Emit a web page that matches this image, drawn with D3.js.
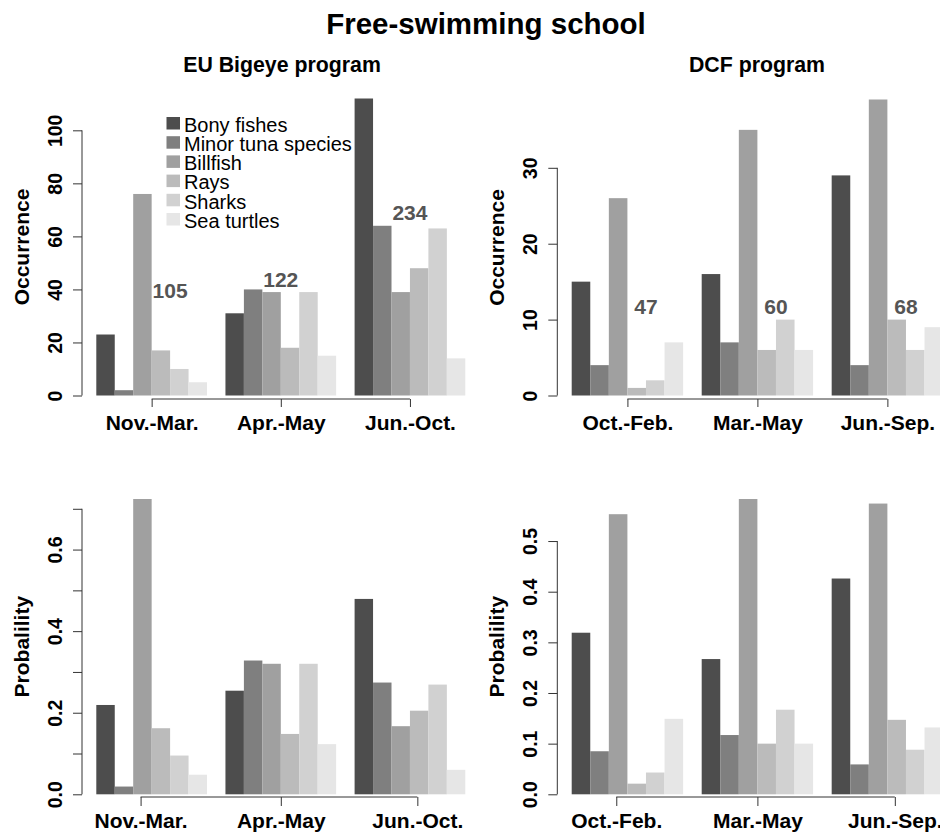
<!DOCTYPE html>
<html>
<head>
<meta charset="utf-8">
<script src="https://cdn.jsdelivr.net/npm/d3@7"></script>
<style>
  html, body { margin: 0; padding: 0; background: #fff; }
  svg { display: block; font-family: "Liberation Sans", Arial, Helvetica, sans-serif; }
</style>
</head>
<body>
<svg id="chart" width="940" height="834"></svg>
<script>
// Bycatch groups and their grey shades
const series = ["Bony fishes", "Minor tuna species", "Billfish", "Rays", "Sharks", "Sea turtles"];
const seriesColors = ["#4d4d4d", "#7f7f7f", "#a0a0a0", "#bbbbbb", "#d1d1d1", "#e6e6e6"];

// Seasons of each observer program
const euPeriods = ["Nov.-Mar.", "Apr.-May", "Jun.-Oct."];
const dcfPeriods = ["Oct.-Feb.", "Mar.-May", "Jun.-Sep."];

// Occurrence counts (rows = seasons, columns = bycatch groups)
const euCounts = [
  [23, 2, 76, 17, 10, 5],
  [31, 40, 39, 18, 39, 15],
  [112, 64, 39, 48, 63, 14]
];
const dcfCounts = [
  [15, 4, 26, 1, 2, 7],
  [16, 7, 35, 6, 10, 6],
  [29, 4, 39, 10, 6, 9]
];

// Number of observed sets per season
const euSets = [105, 122, 234];
const dcfSets = [47, 60, 68];
// Where the set counts are written (bar units, occurrence value)
const euSetsAt = [[4, 39.5], [10, 43.7], [17, 69.2]];
const dcfSetsAt = [[4, 11.7], [11, 11.7], [18, 11.7]];

// Probability of occurrence
const euProb = [
  [0.219, 0.019, 0.724, 0.162, 0.095, 0.048],
  [0.254, 0.328, 0.320, 0.148, 0.320, 0.123],
  [0.479, 0.274, 0.167, 0.205, 0.269, 0.060]
];
const dcfProb = [
  [0.319, 0.085, 0.553, 0.021, 0.043, 0.149],
  [0.267, 0.117, 0.583, 0.100, 0.167, 0.100],
  [0.426, 0.059, 0.574, 0.147, 0.088, 0.132]
];

// Axis ticks
const euCountTicks = [0, 20, 40, 60, 80, 100];
const dcfCountTicks = [0, 10, 20, 30];
const euProbTicks = [0, 0.1, 0.2, 0.3, 0.4, 0.5, 0.6, 0.7];
const dcfProbTicks = [0, 0.1, 0.2, 0.3, 0.4, 0.5];
const topTickAt = [3, 10, 17];
const bottomTickAt = [2.4, 10, 17.4];

const svg = d3.select("#chart");
const FONT_AXIS = 21;

svg.append("text")
  .attr("x", 486).attr("y", 34)
  .attr("text-anchor", "middle")
  .attr("font-weight", "bold").attr("font-size", 29.5)
  .text("Free-swimming school");

svg.append("text")
  .attr("x", 282).attr("y", 72)
  .attr("text-anchor", "middle")
  .attr("font-weight", "bold").attr("font-size", 21.3)
  .text("EU Bigeye program");

svg.append("text")
  .attr("x", 757).attr("y", 72)
  .attr("text-anchor", "middle")
  .attr("font-weight", "bold").attr("font-size", 21.3)
  .text("DCF program");

const panels = [
  { values: euCounts, periods: euPeriods, ticks: euCountTicks, fmt: d3.format("d"),
    x0: 96.3, unit: 18.45, axisX: 82, base: 395.5, top: 98.5, xAxisY: 399, tickLen: 8,
    xTicks: topTickAt, ylab: "Occurrence", sets: euSets, setsAt: euSetsAt, legend: true },
  { values: dcfCounts, periods: dcfPeriods, ticks: dcfCountTicks, fmt: d3.format("d"),
    x0: 571.7, unit: 18.57, axisX: 557.3, base: 395.5, top: 99.5, xAxisY: 399, tickLen: 8,
    xTicks: topTickAt, ylab: "Occurrence", sets: dcfSets, setsAt: dcfSetsAt },
  { values: euProb, periods: euPeriods, ticks: euProbTicks,
    fmt: d => (Math.round(d * 10) % 2 === 0 ? d3.format(".1f")(d) : ""),
    x0: 96.3, unit: 18.45, axisX: 82, base: 794.3, top: 499, xAxisY: 797, tickLen: 9,
    xTicks: bottomTickAt, ylab: "Probalility" },
  { values: dcfProb, periods: dcfPeriods, ticks: dcfProbTicks, fmt: d3.format(".1f"),
    x0: 571.7, unit: 18.57, axisX: 557.3, base: 794.3, top: 499, xAxisY: 797, tickLen: 9,
    xTicks: bottomTickAt, ylab: "Probalility" }
];

panels.forEach(p => {
  const g = svg.append("g");
  const xEnd = p.x0 + 20 * p.unit;

  // Positions in bar units (each bar is one unit wide, one unit gap between seasons)
  const xu = d3.scaleLinear().domain([0, 20]).range([p.x0, xEnd]);
  const xGroup = d3.scaleBand().domain(p.periods).range([p.x0, xEnd])
    .paddingInner(1 / 7).paddingOuter(0);
  const xBar = d3.scaleBand().domain(series).range([0, xGroup.bandwidth()]);
  const y = d3.scaleLinear()
    .domain([0, d3.max(p.values, r => d3.max(r))])
    .range([p.base, p.top]);

  // Bars
  p.periods.forEach((period, gi) => {
    g.append("g")
      .attr("transform", `translate(${xGroup(period)},0)`)
      .selectAll("rect")
      .data(p.values[gi])
      .join("rect")
      .attr("x", (d, i) => xBar(series[i]))
      .attr("width", xBar.bandwidth())
      .attr("y", d => y(d))
      .attr("height", d => y(0) - y(d))
      .attr("fill", (d, i) => seriesColors[i]);
  });

  // Y axis
  const yAxis = g.append("g")
    .attr("transform", `translate(${p.axisX},0)`)
    .call(d3.axisLeft(y).tickValues(p.ticks).tickFormat(p.fmt).tickSize(9).tickSizeOuter(0));
  yAxis.select(".domain").remove();
  yAxis.append("line")
    .attr("x1", 0).attr("x2", 0)
    .attr("y1", y(p.ticks[0])).attr("y2", y(p.ticks[p.ticks.length - 1]))
    .attr("stroke", "#333");
  yAxis.selectAll(".tick line").attr("stroke", "#333");
  yAxis.selectAll(".tick text")
    .attr("x", null).attr("dy", null)
    .attr("transform", "translate(-20,0) rotate(-90)")
    .attr("text-anchor", "middle")
    .attr("fill", "#000")
    .attr("font-family", null)
    .attr("font-weight", "bold")
    .attr("font-size", 19.5);

  // X axis
  const xAxis = g.append("g")
    .attr("transform", `translate(0,${p.xAxisY})`)
    .call(d3.axisBottom(xu).tickValues(p.xTicks)
      .tickFormat((d, i) => p.periods[i]).tickSize(p.tickLen).tickSizeOuter(0));
  xAxis.select(".domain").remove();
  xAxis.append("line")
    .attr("x1", xu(p.xTicks[0])).attr("x2", xu(p.xTicks[p.xTicks.length - 1]))
    .attr("y1", 0).attr("y2", 0)
    .attr("stroke", "#333");
  xAxis.selectAll(".tick line").attr("stroke", "#333");
  xAxis.selectAll(".tick text")
    .attr("y", 31).attr("dy", null)
    .attr("fill", "#000")
    .attr("font-family", null)
    .attr("font-weight", "bold")
    .attr("font-size", FONT_AXIS);

  // Y axis title
  g.append("text")
    .attr("transform", `translate(${p.axisX - 53.5},${(p.base + p.top) / 2}) rotate(-90)`)
    .attr("text-anchor", "middle")
    .attr("font-weight", "bold")
    .attr("font-size", 21)
    .text(p.ylab);

  // Number of sets per season
  if (p.sets) {
    g.selectAll("text.nsets")
      .data(p.sets)
      .join("text")
      .attr("class", "nsets")
      .attr("x", (d, i) => xu(p.setsAt[i][0]))
      .attr("y", (d, i) => y(p.setsAt[i][1]))
      .attr("dy", "0.36em")
      .attr("text-anchor", "middle")
      .attr("font-weight", "bold")
      .attr("font-size", 21)
      .attr("fill", "#555")
      .text(d => d);
  }

  // Legend
  if (p.legend) {
    const lg = g.append("g").attr("transform", "translate(166.5,117)");
    const row = lg.selectAll("g")
      .data(series)
      .join("g")
      .attr("transform", (d, i) => `translate(0,${i * 19.2})`);
    row.append("rect")
      .attr("width", 13.5).attr("height", 12.5)
      .attr("fill", (d, i) => seriesColors[i]);
    row.append("text")
      .attr("x", 17.5).attr("y", 14.8)
      .attr("font-size", 20)
      .text(d => d);
  }
});
</script>
</body>
</html>
